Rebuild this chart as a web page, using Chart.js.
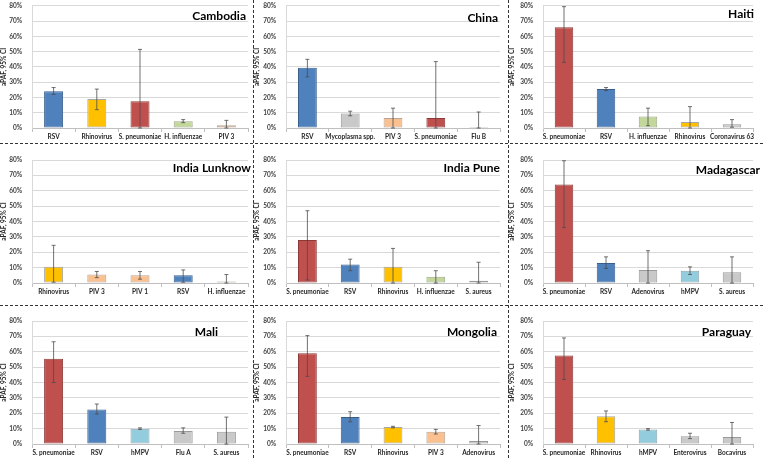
<!DOCTYPE html>
<html>
<head>
<meta charset="utf-8">
<script src="https://cdn.jsdelivr.net/npm/chart.js@4.4.1/dist/chart.umd.min.js"></script>
<style>
  body { margin: 0; background: #fff; }
  #wrap { position: relative; width: 763px; height: 458px; overflow: hidden; }
  .panel { position: absolute; }
  .vline { position: absolute; top: 0; height: 458px; border-left: 1px dashed #333; }
  .hline { position: absolute; left: 0; width: 763px; border-top: 1px dashed #333; }
</style>
</head>
<body>
<div id="wrap">
  <div class="vline" style="left:253px"></div>
  <div class="vline" style="left:508px"></div>
  <div class="hline" style="top:143px"></div>
  <div class="hline" style="top:305px"></div>
</div>
<script>
// values in percent
const cambodiaLabels = ['RSV', 'Rhinovirus', 'S. pneumoniae', 'H. influenzae', 'PIV 3'];
const cambodiaValues = [24, 19, 17.5, 4.5, 1.8];
const cambodiaLow = [22, 12, 0, 3.5, 0];
const cambodiaHigh = [26.5, 25.5, 51.5, 5.5, 5];

const chinaLabels = ['RSV', 'Mycoplasma spp.', 'PIV 3', 'S. pneumoniae', 'Flu B'];
const chinaValues = [39.5, 9.5, 6.5, 6.5, 0.6];
const chinaLow = [33.5, 8, 0, 0, 0];
const chinaHigh = [45, 11, 13, 43.5, 10.5];

const haitiLabels = ['S. pneumoniae', 'RSV', 'H. influenzae', 'Rhinovirus', 'Coronavirus 63'];
const haitiValues = [66, 25.5, 7.5, 4, 2.5];
const haitiLow = [43, 24.5, 1.5, 0, 0.5];
const haitiHigh = [79.5, 26.5, 13, 14, 5.5];

const lunknowLabels = ['Rhinovirus', 'PIV 3', 'PIV 1', 'RSV', 'H. influenzae'];
const lunknowValues = [10.5, 5.5, 5, 5, 1];
const lunknowLow = [0.5, 3.5, 2.5, 0.5, 0];
const lunknowHigh = [24.5, 7.5, 7.5, 8.5, 5.5];

const puneLabels = ['S. pneumoniae', 'RSV', 'Rhinovirus', 'H. influenzae', 'S. aureus'];
const puneValues = [28, 12, 10.5, 4, 1.5];
const puneLow = [2, 8, 0, 0, 0];
const puneHigh = [47, 15.5, 22.5, 8, 13.5];

const madagascarLabels = ['S. pneumoniae', 'RSV', 'Adenovirus', 'hMPV', 'S. aureus'];
const madagascarValues = [64, 13, 8.5, 8, 7];
const madagascarLow = [36, 9.5, 0, 5.5, 0];
const madagascarHigh = [79.5, 17, 21, 10.5, 17];

const maliLabels = ['S. pneumoniae', 'RSV', 'hMPV', 'Flu A', 'S. aureus'];
const maliValues = [55.5, 22.5, 10, 8.5, 8];
const maliLow = [40, 19.5, 9.5, 7, 0];
const maliHigh = [66.5, 26, 10.5, 10.5, 17.5];

const mongoliaLabels = ['S. pneumoniae', 'RSV', 'Rhinovirus', 'PIV 3', 'Adenovirus'];
const mongoliaValues = [59, 17.5, 11, 8, 2];
const mongoliaLow = [44, 14.5, 10.5, 6.5, 0];
const mongoliaHigh = [70.5, 21, 11.5, 9.5, 12];

const paraguayLabels = ['S. pneumoniae', 'Rhinovirus', 'hMPV', 'Enterovirus', 'Bocavirus'];
const paraguayValues = [57.5, 18, 9.5, 5, 4.5];
const paraguayLow = [42, 14.5, 9, 3.5, 0];
const paraguayHigh = [69, 21.5, 10, 7, 14];

const yTicks = [0, 10, 20, 30, 40, 50, 60, 70, 80];

// colours per pathogen
const fills = {
  'RSV': ['#4f81bd', '#3a5f8c'],
  'Rhinovirus': ['#ffc000', '#a6a6a6'],
  'S. pneumoniae': ['#c0504d', '#8c3a38'],
  'H. influenzae': ['#c4d79b', '#9aa88a'],
  'PIV 3': ['#fac090', '#b8a596'],
  'PIV 1': ['#fac090', '#b8a596'],
  'hMPV': ['#93cddd', '#8fa5ac']
};
const greyFill = ['#c9c9c9', '#9a9a9a'];

const panels = [
  { title: 'Cambodia', labels: cambodiaLabels, values: cambodiaValues, low: cambodiaLow, high: cambodiaHigh },
  { title: 'China', labels: chinaLabels, values: chinaValues, low: chinaLow, high: chinaHigh },
  { title: 'Haiti', labels: haitiLabels, values: haitiValues, low: haitiLow, high: haitiHigh },
  { title: 'India Lunknow', labels: lunknowLabels, values: lunknowValues, low: lunknowLow, high: lunknowHigh },
  { title: 'India Pune', labels: puneLabels, values: puneValues, low: puneLow, high: puneHigh },
  { title: 'Madagascar', labels: madagascarLabels, values: madagascarValues, low: madagascarLow, high: madagascarHigh },
  { title: 'Mali', labels: maliLabels, values: maliValues, low: maliLow, high: maliHigh },
  { title: 'Mongolia', labels: mongoliaLabels, values: mongoliaValues, low: mongoliaLow, high: mongoliaHigh },
  { title: 'Paraguay', labels: paraguayLabels, values: paraguayValues, low: paraguayLow, high: paraguayHigh }
];

// layout of the 3x3 grid
const colX = [0, 253, 508];
const colW = [253, 255, 255];
const rowY = [0, 143, 305];
const rowH = [143, 162, 153];
const axisW = [32, 33, 35];
const padRight = [5, 8, 10];
const padTop = [5, 17, 16];
const xAxisH = [15, 22, 14];
// title right edge / centre y inside each panel
const titlePos = [
  [246, 16], [245, 18], [246, 14],
  [251, 25], [247, 25], [252, 27],
  [218, 27], [244, 27], [243, 27]
];

const errorBars = {
  id: 'errorBars',
  afterDatasetsDraw(chart) {
    const ds = chart.data.datasets[0];
    const meta = chart.getDatasetMeta(0);
    const y = chart.scales.y;
    const ctx = chart.ctx;
    ctx.save();
    ctx.strokeStyle = '#4d4d4d';
    ctx.lineWidth = 0.8;
    meta.data.forEach((bar, i) => {
      const yl = y.getPixelForValue(ds.errLow[i]);
      const yh = y.getPixelForValue(ds.errHigh[i]);
      ctx.beginPath();
      ctx.moveTo(bar.x, yl);
      ctx.lineTo(bar.x, yh);
      ctx.moveTo(bar.x - 2, yl);
      ctx.lineTo(bar.x + 2, yl);
      ctx.moveTo(bar.x - 2, yh);
      ctx.lineTo(bar.x + 2, yh);
      ctx.stroke();
    });
    ctx.restore();
  }
};

const panelTitle = {
  id: 'panelTitle',
  afterDraw(chart, args, opts) {
    const ctx = chart.ctx;
    ctx.save();
    ctx.font = 'bold 12px Lato';
    ctx.fillStyle = '#000';
    ctx.textAlign = 'right';
    ctx.textBaseline = 'middle';
    ctx.fillText(opts.text, opts.x, opts.y);
    ctx.restore();
  }
};

const wrap = document.getElementById('wrap');
panels.forEach((p, idx) => {
  const col = idx % 3;
  const row = Math.floor(idx / 3);
  const div = document.createElement('div');
  div.className = 'panel';
  div.style.left = colX[col] + 'px';
  div.style.top = rowY[row] + 'px';
  div.style.width = colW[col] + 'px';
  div.style.height = rowH[row] + 'px';
  const canvas = document.createElement('canvas');
  div.appendChild(canvas);
  wrap.insertBefore(div, wrap.firstChild);

  new Chart(canvas, {
    type: 'bar',
    data: {
      labels: p.labels,
      datasets: [{
        data: p.values,
        errLow: p.low,
        errHigh: p.high,
        backgroundColor: p.labels.map(l => (fills[l] || greyFill)[0]),
        borderColor: p.labels.map(l => (fills[l] || greyFill)[1]),
        borderWidth: 1,
        borderSkipped: false,
        barPercentage: 0.44,
        categoryPercentage: 1
      }]
    },
    options: {
      responsive: true,
      maintainAspectRatio: false,
      animation: false,
      events: [],
      layout: { padding: { left: 0, right: padRight[col], top: padTop[row], bottom: 0 } },
      plugins: {
        legend: { display: false },
        tooltip: { enabled: false },
        panelTitle: { text: p.title, x: titlePos[idx][0], y: titlePos[idx][1] }
      },
      scales: {
        x: {
          offset: true,
          grid: { offset: true, drawOnChartArea: false, tickLength: 4, color: '#bfbfbf' },
          border: { color: '#bfbfbf' },
          ticks: { color: '#262626', font: { family: 'Lato', size: 6.5, weight: 'bold' }, maxRotation: 0, autoSkip: false, padding: 1 },
          afterFit(scale) { scale.height = xAxisH[row]; }
        },
        y: {
          min: 0,
          max: 80,
          afterBuildTicks(scale) { scale.ticks = yTicks.map(v => ({ value: v })); },
          grid: { color: '#d9d9d9', drawTicks: true, tickLength: 8, tickColor: 'rgba(0,0,0,0)' },
          border: { color: '#d9d9d9' },
          ticks: { color: '#404040', padding: 2, font: { family: 'Lato', size: 6.5, weight: 'bold' }, callback: v => v + '%' },
          title: { display: true, text: 'aPAF, 95% CI', color: '#262626', font: { family: 'Lato', size: 6.5, weight: 'bold' }, padding: 0 },
          afterFit(scale) { scale.width = axisW[col]; }
        }
      }
    },
    plugins: [errorBars, panelTitle]
  });
});
</script>
</body>
</html>
